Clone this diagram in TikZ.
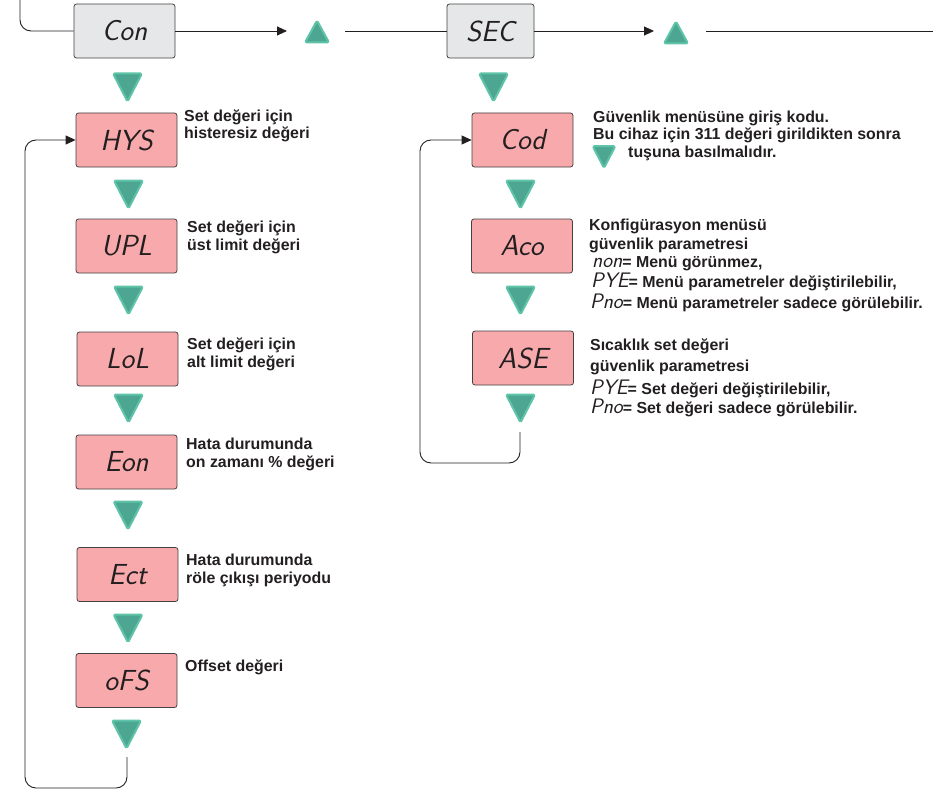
\documentclass[tikz,border=0pt]{standalone}
\usepackage{fontspec}
\setmainfont{Liberation Sans}
\usetikzlibrary{arrows.meta}

\definecolor{lcdpink}{HTML}{F7A9AC}
\definecolor{lcdgrey}{HTML}{E6E7E8}
\definecolor{keyteal}{HTML}{4DA692}
\definecolor{keyedge}{HTML}{5EC4A8}
\definecolor{inkdark}{HTML}{231F20}

\newcommand{\lcdbig}{\fontsize{29}{29}\selectfont\sffamily\slshape}
\newcommand{\lcdsmall}[1]{{\fontsize{21}{21}\selectfont\sffamily\slshape\mdseries #1}}
\newcommand{\notefont}{\fontsize{15.9}{17.5}\selectfont\bfseries}

\begin{document}
\begin{tikzpicture}[x=1pt,y=-1pt,
	lcd/.style={draw=inkdark!85,rounded corners=2.5pt,line width=0.8pt,minimum width=101pt,minimum height=54pt,inner sep=0pt,font=\lcdbig,text=inkdark},
	pinkbox/.style={lcd,fill=lcdpink},
	greybox/.style={lcd,fill=lcdgrey},
	keyshape/.style={fill=keyteal,draw=keyedge,line width=2pt,line join=round,rounded corners=1.5pt},
	downkey/.pic={\filldraw[keyshape] (-14.5,1.5) -- (14.5,1.5) -- (0,29.5) -- cycle;},
	upkey/.pic={\filldraw[keyshape] (-12,-1.5) -- (12,-1.5) -- (0,-23.5) -- cycle;},
	flow/.style={line width=0.9pt,draw=inkdark},
	loopline/.style={flow,rounded corners=11pt},
	tip/.style={-{Triangle[length=10pt,width=9pt]}},
	note/.style={anchor=base west,align=left,inner sep=0pt,text=inkdark,font=\notefont}]
		\useasboundingbox (0,0) rectangle (933,789);
		% top row
		\node[greybox] (con) at (124.5,31) {Con};
		\node[greybox,minimum width=87pt] (sec) at (490.5,31) {SEC};
		\coordinate (topL) at (20,0);
		\coordinate (conTip) at (287,31);
		\coordinate (secIn) at (345,31);
		\coordinate (secTip) at (654,31);
		\coordinate (secOut) at (706,31);
		\coordinate (rightEnd) at (933,31);
		\draw[loopline] (topL) |- (con.west);
		\draw[flow,tip] (con.east) -- (conTip);
		\draw[flow] (secIn) -- (sec.west);
		\draw[flow,tip] (sec.east) -- (secTip);
		\draw[flow] (secOut) -- (rightEnd);
		\pic at (317,44) {upkey};
		\pic at (676,45) {upkey};
		% left column
		\node[pinkbox] (hys) at (126.5,140) {HYS};
		\node[pinkbox] (upl) at (126.5,246) {UPL};
		\node[pinkbox] (lol) at (127.5,359) {LoL};
		\node[pinkbox] (eon) at (126.5,462) {Eon};
		\node[pinkbox] (ect) at (127.5,574.5) {Ect};
		\node[pinkbox] (ofs) at (126.5,680.5) {oFS};
		% right column
		\node[pinkbox] (cod) at (522.5,140) {Cod};
		\node[pinkbox] (aco) at (522,246) {Aco};
		\node[pinkbox] (ase) at (523,358) {ASE};
		% keys
		\foreach \kx/\ky in {127.5/72,128.5/179,128.5/285,128.5/393,128/500,128/613,126.5/719,493.5/72,520.5/179,520.5/285,520.5/393}
			\pic at (\kx,\ky) {downkey};
		\pic[scale=0.78] at (604,145) {downkey};
		% loops back
		\coordinate (loopL) at (127,757);
		\coordinate (cornerL) at (25,788);
		\draw[loopline,tip] (loopL) |- (cornerL) |- (hys.west);
		\coordinate (loopR) at (520,432);
		\coordinate (cornerR) at (420,463);
		\draw[loopline,tip] (loopR) |- (cornerR) |- (cod.west);
		% notes (placed by the baseline of their last line)
		\node[note] (hysnote) at (184,139) {Set değeri için\\histeresiz değeri};
		\node[note] (uplnote) at (187,250) {Set değeri için\\üst limit değeri};
		\node[note] (lolnote) at (187,367) {Set değeri için\\alt limit değeri};
		\node[note] (eonnote) at (186,467) {Hata durumunda\\on zamanı \% değeri};
		\node[note] (ectnote) at (186,583) {Hata durumunda\\röle çıkışı periyodu};
		\node[note] (ofsnote) at (185,671) {Offset değeri};
		\node[note] (codnote) at (593,157) {Güvenlik menüsüne giriş kodu.\\Bu cihaz için 311 değeri girildikten sonra\\\hspace*{35pt}tuşuna basılmalıdır.};
		\node[note] (aconote) at (589,308) {Konfigürasyon menüsü\\[1.5pt]güvenlik parametresi\\[0.5pt]
			\hspace*{3pt}\lcdsmall{non}= Menü görünmez,\\[0.5pt]
			\hspace*{2pt}\lcdsmall{PYE}= Menü parametreler değiştirilebilir,\\[2pt]
			\hspace*{1pt}\lcdsmall{Pno}= Menü parametreler sadece görülebilir.};
		\node[note] (asenote) at (590,413) {Sıcaklık set değeri\\[3.5pt]güvenlik parametresi\\[4pt]
			\lcdsmall{PYE}= Set değeri değiştirilebilir,\\
			\lcdsmall{Pno}= Set değeri sadece görülebilir.};
	\end{tikzpicture}
\end{document}
